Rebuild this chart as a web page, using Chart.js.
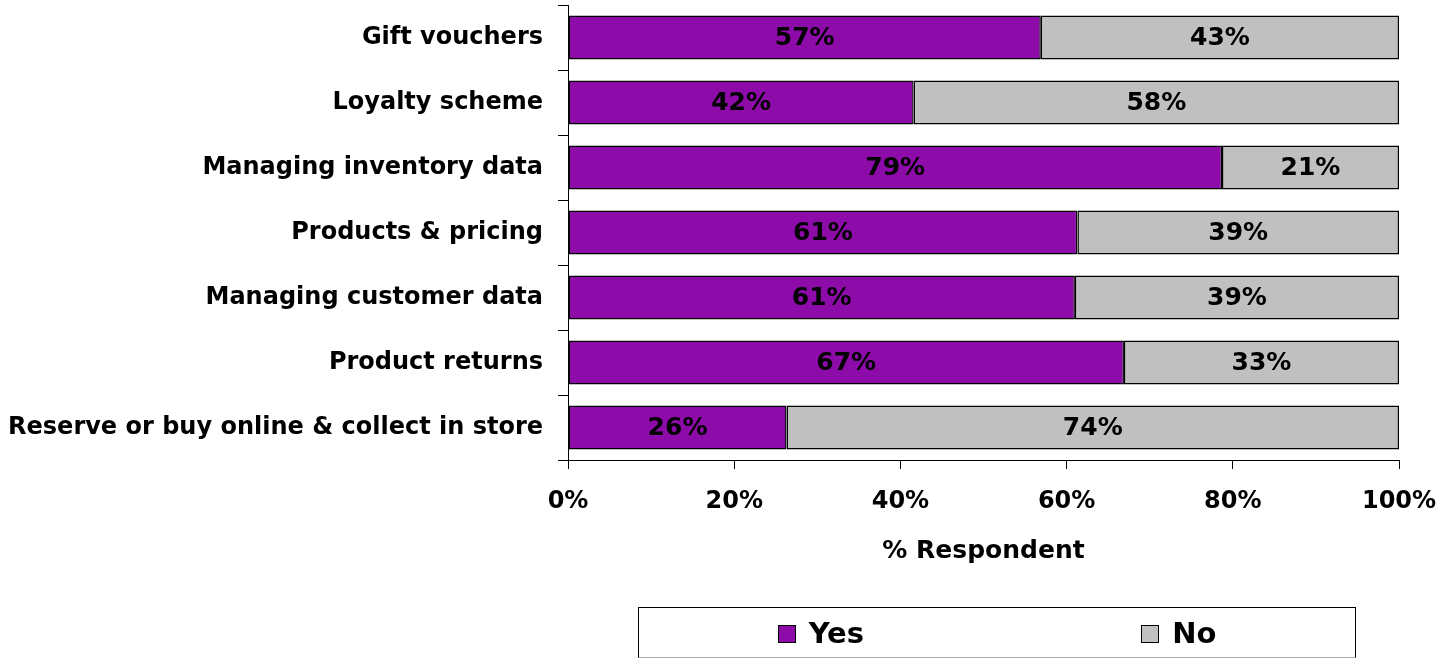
<!DOCTYPE html>
<html>
<head>
<meta charset="utf-8">
<script src="https://cdn.jsdelivr.net/npm/chart.js@4.4.1/dist/chart.umd.min.js"></script>
<style>
  body { margin: 0; background: #fff; }
  #wrap { position: relative; width: 1439px; height: 659px; overflow: hidden; }
  #legend {
    position: absolute; left: 638px; top: 607px; width: 716px; height: 49px;
    border: 1.5px solid #000; border-bottom: 1px solid #aaa;
    display: flex; justify-content: space-around; align-items: center;
    font: bold 29px "DejaVu Sans", sans-serif; color: #000;
  }
  #legend .item { display: flex; align-items: center; }
  #legend .box { width: 16px; height: 16px; border: 1px solid #000; margin-right: 13px; margin-top: 3px; }
</style>
</head>
<body>
<div id="wrap">
  <canvas id="chart" width="1439" height="659"></canvas>
  <div id="legend"></div>
</div>
<script>
const categories = [
  'Gift vouchers',
  'Loyalty scheme',
  'Managing inventory data',
  'Products & pricing',
  'Managing customer data',
  'Product returns',
  'Reserve or buy online & collect in store'
];
const yesValues = [56.9, 41.6, 78.7, 61.3, 61.0, 66.9, 26.3];
const noValues = [43.1, 58.4, 21.3, 38.7, 39.0, 33.1, 73.7];
const seriesNames = ['Yes', 'No'];
const seriesColors = ['#8D0CA9', '#C0C0C0'];
const xTickValues = [0, 20, 40, 60, 80, 100];
const xTitle = '% Respondent';

const FONT = '"DejaVu Sans", sans-serif';

// value labels in the middle of each bar segment
const barLabels = {
  id: 'barLabels',
  afterDatasetsDraw(chart) {
    const ctx = chart.ctx;
    ctx.save();
    ctx.font = 'bold 25px ' + FONT;
    ctx.fillStyle = '#000';
    ctx.textAlign = 'center';
    ctx.textBaseline = 'middle';
    chart.data.datasets.forEach((ds, i) => {
      chart.getDatasetMeta(i).data.forEach((bar, j) => {
        const x = (bar.x + bar.base) / 2;
        ctx.fillText(Math.round(ds.data[j]) + '%', x, bar.y + 1);
      });
    });
    ctx.restore();
  }
};

const datasets = [yesValues, noValues].map((vals, i) => ({
  label: seriesNames[i],
  data: vals,
  backgroundColor: seriesColors[i],
  borderColor: '#000',
  borderWidth: 1.5,
  borderSkipped: false,
  barPercentage: 0.68,
  categoryPercentage: 1
}));

const chart = new Chart(document.getElementById('chart').getContext('2d'), {
  type: 'bar',
  data: { labels: categories, datasets },
  options: {
    indexAxis: 'y',
    responsive: false,
    animation: false,
    devicePixelRatio: 1,
    layout: { padding: { top: 5, right: 40, bottom: 93, left: 0 } },
    plugins: { legend: { display: false }, tooltip: { enabled: false } },
    scales: {
      x: {
        stacked: true,
        min: 0,
        max: 100,
        afterBuildTicks: (scale) => { scale.ticks = xTickValues.map(v => ({ value: v })); },
        ticks: {
          callback: (v) => v + '%',
          color: '#000',
          padding: 18,
          font: { family: FONT, size: 24, weight: 'bold' }
        },
        grid: { drawOnChartArea: false, drawTicks: true, tickLength: 9, color: '#000', lineWidth: 1 },
        border: { display: true, color: '#000', width: 1 },
        title: {
          display: true,
          text: xTitle,
          color: '#000',
          padding: { top: 0, bottom: 0 },
          font: { family: FONT, size: 25, weight: 'bold' }
        },
        afterFit: (scale) => {
          scale.height = 106;
          scale.paddingLeft = 0;
          scale.paddingRight = 0;
        }
      },
      y: {
        stacked: true,
        ticks: {
          color: '#000',
          padding: 15,
          autoSkip: false,
          font: { family: FONT, size: 24, weight: 'bold' }
        },
        grid: { drawOnChartArea: false, drawTicks: true, tickLength: 10, color: '#000', lineWidth: 1, offset: true },
        border: { display: true, color: '#000', width: 1 },
        afterFit: (scale) => {
          scale.width = 568;
          scale.paddingTop = 0;
          scale.paddingBottom = 0;
        }
      }
    }
  },
  plugins: [barLabels]
});

// legend built from the datasets
const legendEl = document.getElementById('legend');
chart.data.datasets.forEach(ds => {
  const item = document.createElement('div');
  item.className = 'item';
  const box = document.createElement('span');
  box.className = 'box';
  box.style.background = ds.backgroundColor;
  const txt = document.createElement('span');
  txt.textContent = ds.label;
  item.appendChild(box);
  item.appendChild(txt);
  legendEl.appendChild(item);
});
</script>
</body>
</html>
